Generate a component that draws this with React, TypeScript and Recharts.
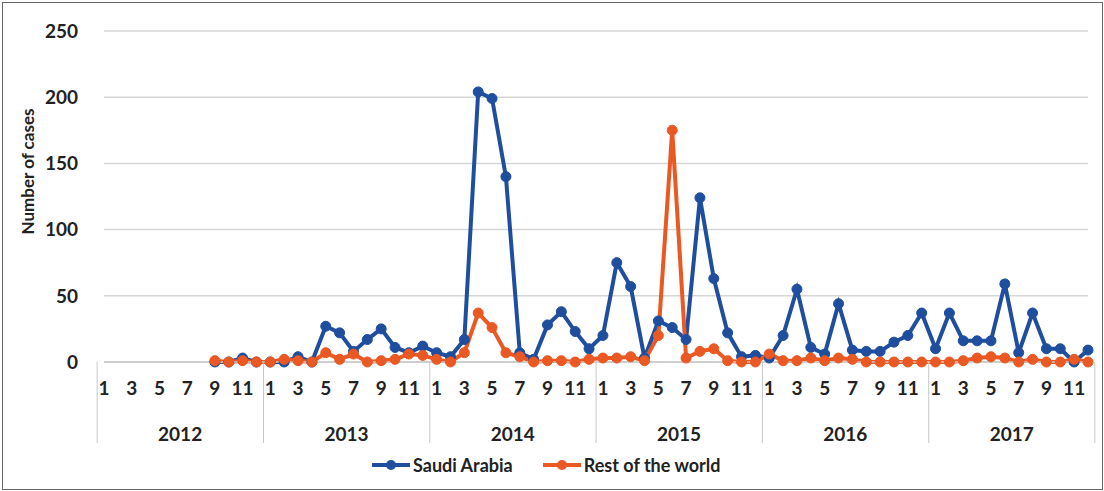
import React from 'react';
import { LineChart, Line, XAxis, YAxis, CartesianGrid } from 'recharts';

const years = ['2012', '2013', '2014', '2015', '2016', '2017'];
const months = [1, 2, 3, 4, 5, 6, 7, 8, 9, 10, 11, 12];

// monthly cases, null where there is no report yet
const saudiArabia = [
  [null, null, null, null, null, null, null, null, 0, 0, 3, 0],
  [0, 0, 4, 0, 27, 22, 8, 17, 25, 11, 7, 12],
  [7, 4, 17, 204, 199, 140, 7, 2, 28, 38, 23, 10],
  [20, 75, 57, 3, 31, 26, 17, 124, 63, 22, 4, 5],
  [3, 20, 55, 11, 6, 44, 9, 8, 8, 15, 20, 37],
  [10, 37, 16, 16, 16, 59, 7, 37, 10, 10, 0, 9],
];
const restOfWorld = [
  [null, null, null, null, null, null, null, null, 1, 0, 1, 0],
  [0, 2, 1, 0, 7, 2, 6, 0, 1, 2, 6, 5],
  [2, 0, 7, 37, 26, 7, 4, 0, 1, 1, 0, 2],
  [3, 3, 4, 1, 20, 175, 3, 8, 10, 1, 0, 0],
  [6, 1, 1, 3, 1, 3, 2, 0, 0, 0, 0, 0],
  [0, 0, 1, 3, 4, 3, 0, 2, 0, 0, 2, 0],
];
const yTicks = [0, 50, 100, 150, 200, 250];
const seriesNames = ['Saudi Arabia', 'Rest of the world'];

const BLUE = '#1f4e9e';
const ORANGE = '#ea5823';
const FONT = 'Lato, "Open Sans", sans-serif';

const W = 1104;
const H = 491;
const X_AXIS_H = 90;
const Y_AXIS_W = 90;
const margin = { top: 31, right: 16, left: 14, bottom: 129 - X_AXIS_H };

const data = years.flatMap((y, yi) =>
  months.map((m, mi) => ({
    key: `${y}-${m}`,
    year: y,
    month: m,
    saudi: saudiArabia[yi][mi],
    rest: restOfWorld[yi][mi],
  }))
);

const MonthTick = (props: any) => {
  const { x, y, index, width } = props;
  const d = data[index];
  if (!d) return null;
  const band = (width || 998) / data.length;
  const top = y - 8;
  const bottom = top + 81;
  return (
    <g>
      {d.month % 2 === 1 && (
        <text x={x} y={top + 33} textAnchor="middle" fontFamily={FONT} fontWeight="bold" fontSize={19} fill="#222">
          {d.month}
        </text>
      )}
      {d.month === 1 && (
        <line x1={x - band / 2} x2={x - band / 2} y1={top} y2={bottom} stroke="#c8c8c8" />
      )}
      {index === data.length - 1 && (
        <line x1={x + band / 2} x2={x + band / 2} y1={top} y2={bottom} stroke="#c8c8c8" />
      )}
      {d.month === 6 && (
        <text x={x + band / 2} y={top + 79} textAnchor="middle" fontFamily={FONT} fontWeight="bold" fontSize={19} fill="#222">
          {d.year}
        </text>
      )}
    </g>
  );
};

const LegendBox = () => {
  const colors = [BLUE, ORANGE];
  return (
    <div style={{ position: 'absolute', left: 372, top: 454, display: 'flex', gap: 30, fontFamily: FONT, fontWeight: 'bold', fontSize: 18, color: '#222' }}>
      {seriesNames.map((name, i) => (
        <div key={name} style={{ display: 'flex', alignItems: 'center' }}>
          <svg width={38} height={12} style={{ marginRight: 3 }}>
            <line x1={0} x2={38} y1={6} y2={6} stroke={colors[i]} strokeWidth={4} />
            <circle cx={19} cy={6} r={5} fill={colors[i]} />
          </svg>
          <span>{name}</span>
        </div>
      ))}
    </div>
  );
};

export default function App() {
  return (
    <div style={{ position: 'absolute', left: 0, top: 0, width: W, height: H, background: '#fff' }}>
      <div style={{ position: 'absolute', left: 2, top: 2, width: W - 5, height: H - 5, border: '1px solid #666', pointerEvents: 'none' }} />
      <LineChart width={W} height={H} data={data} margin={margin}>
        <CartesianGrid vertical={false} stroke="#d6d6d6" strokeWidth={1.5} />
        <XAxis
          dataKey="key"
          interval={0}
          tickLine={false}
          axisLine={{ stroke: '#c8c8c8', strokeWidth: 1.5 }}
          tick={<MonthTick />}
          height={X_AXIS_H}
        />
        <YAxis
          domain={[0, 250]}
          ticks={yTicks}
          axisLine={false}
          tickLine={false}
          width={Y_AXIS_W}
          tick={{ fontFamily: FONT, fontWeight: 'bold', fontSize: 19, fill: '#222' }}
          tickMargin={20}
          label={{
            value: 'Number of cases',
            angle: -90,
            position: 'insideLeft',
            offset: 14,
            dy: -25,
            style: { fontFamily: FONT, fontWeight: 'bold', fontSize: 17, fill: '#222', textAnchor: 'middle' },
          }}
        />
        <Line
          dataKey="saudi"
          name={seriesNames[0]}
          stroke={BLUE}
          strokeWidth={4}
          dot={{ r: 5, fill: BLUE, stroke: BLUE, strokeWidth: 1 }}
          isAnimationActive={false}
        />
        <Line
          dataKey="rest"
          name={seriesNames[1]}
          stroke={ORANGE}
          strokeWidth={4}
          dot={{ r: 5, fill: ORANGE, stroke: ORANGE, strokeWidth: 1 }}
          isAnimationActive={false}
        />
      </LineChart>
      <LegendBox />
    </div>
  );
}
